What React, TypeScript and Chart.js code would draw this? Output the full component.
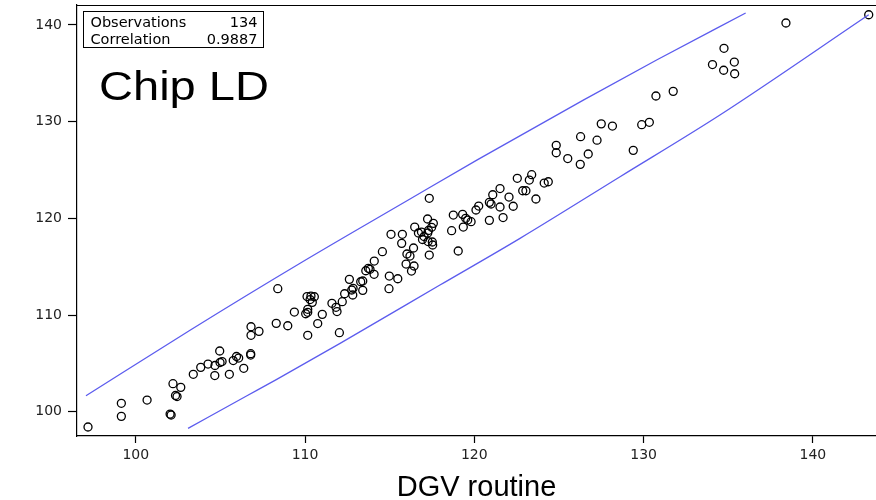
import React, { useEffect, useRef } from 'react';
import { Chart, registerables } from 'chart.js';
Chart.register(...registerables);

// DGV routine (x) and Chip LD (y) observations
const dgvRoutine = [
  97.18, 99.15, 99.15, 100.67, 102.03, 102.09, 102.2, 102.66, 102.35, 102.44,
  103.4, 103.84, 104.27, 104.68, 104.67, 104.96, 105.1, 104.98, 105.53, 105.76,
  105.95, 106.08, 106.38, 106.79, 106.79, 106.81, 107.28, 106.81, 108.3, 108.98,
  108.39, 109.37, 110.04, 110.16, 110.16, 110.12, 110.35, 110.55, 110.3, 110.43,
  110.16, 110.75, 111.02, 111.59, 111.83, 111.89, 112.03, 112.2, 112.34, 112.62,
  112.76, 112.84, 112.82, 113.29, 113.41, 113.41, 113.59, 113.74, 113.84, 114.09,
  114.08, 114.57, 114.98, 115.48, 114.96, 115.08, 115.75, 115.71, 116.02, 116.2,
  116.41, 115.97, 116.44, 116.29, 116.48, 116.7, 116.88, 117.03, 116.94, 117.24,
  117.58, 117.48, 117.29, 117.25, 117.27, 117.52, 117.54, 117.34, 117.34, 118.66,
  119.05, 118.76, 119.31, 119.49, 119.61, 119.81, 119.35, 120.1, 120.26, 120.89,
  120.99, 121.09, 120.89, 121.52, 121.52, 121.7, 122.05, 122.3, 122.54, 123.25,
  123.39, 122.86, 123.05, 123.64, 124.13, 124.37, 124.84, 124.84, 125.52, 126.28,
  126.26, 126.73, 127.25, 127.5, 128.16, 129.39, 129.89, 130.34, 130.73, 131.75,
  134.07, 134.75, 135.36, 134.73, 135.38, 138.41, 143.3,
];
const chipLD = [
  98.42, 100.87, 99.52, 101.21, 99.76, 99.66, 102.9, 102.52, 101.68, 101.57,
  103.87, 104.59, 104.93, 104.78, 103.74, 106.28, 105.19, 105.09, 103.87, 105.29,
  105.71, 105.55, 104.49, 106.0, 105.86, 108.79, 108.31, 107.9, 109.14, 108.89,
  112.72, 110.31, 110.13, 110.28, 110.59, 111.91, 111.96, 111.89, 111.6, 111.31,
  107.9, 109.12, 110.07, 111.21, 110.8, 110.36, 108.17, 111.38, 112.2, 113.69,
  112.59, 112.76, 112.07, 113.44, 113.52, 112.55, 114.58, 114.83, 114.73, 115.58,
  114.21, 116.55, 114.03, 113.75, 112.72, 118.35, 118.35, 117.41, 116.31, 116.1,
  116.93, 115.27, 115.07, 114.55, 119.1, 118.48, 118.58, 118.12, 117.81, 119.93,
  119.48, 119.07, 118.74, 118.48, 117.6, 117.55, 117.24, 116.2, 122.07, 118.72,
  116.62, 120.34, 120.41, 120.0, 119.82, 119.65, 119.1, 120.86, 121.27, 121.65,
  121.48, 122.44, 119.79, 123.08, 121.17, 120.08, 122.2, 121.25, 124.14, 123.96,
  124.51, 122.85, 122.85, 122.0, 123.65, 123.78, 127.55, 126.78, 126.18, 128.44,
  125.58, 126.65, 128.08, 129.77, 129.54, 127.03, 129.68, 129.93, 132.65, 133.13,
  135.9, 137.58, 136.16, 135.31, 134.95, 140.2, 141.05,
];

// Prediction band curves
const upperBandX = [97.06, 103.23, 109.71, 116.1, 120.2, 126.44, 130.77, 136.03];
const upperBandY = [101.65, 108.45, 115.35, 121.89, 126.07, 132.22, 136.37, 141.23];
const lowerBandX = [103.09, 106.57, 108.33, 112.07, 117.97, 122.7, 128.61, 134.51, 143.3];
const lowerBandY = [98.28, 101.65, 103.35, 107.07, 113.1, 117.93, 124.3, 130.68, 141.05];

const xTicks = [100, 110, 120, 130, 140];
const yTicks = [100, 110, 120, 130, 140];
const xRange = [96.53, 143.73];
const yRange = [97.49, 142.06];

const statsLabels = ['Observations', 'Correlation'];
const statsValues = ['134', '0.9887'];
const panelLabel = 'Chip LD';
const xTitle = 'DGV routine';

const BAND_COLOR = 'rgb(92, 92, 238)';

const annotate = {
  id: 'annotate',
  afterDraw(chart: any) {
    const { ctx, chartArea: a } = chart;
    ctx.save();
    ctx.strokeStyle = '#000';
    ctx.lineWidth = 1.2;
    ctx.beginPath();
    ctx.moveTo(a.left, a.top + 0.5);
    ctx.lineTo(a.right, a.top + 0.5);
    ctx.stroke();

    // stats inset box
    const bx = a.left + 6.5;
    const by = a.top + 6.5;
    const bw = 180;
    const bh = 36;
    ctx.fillStyle = '#fff';
    ctx.fillRect(bx, by, bw, bh);
    ctx.lineWidth = 1;
    ctx.strokeRect(bx, by, bw, bh);
    ctx.fillStyle = '#000';
    ctx.font = '14.5px "DejaVu Sans"';
    ctx.textBaseline = 'alphabetic';
    statsLabels.forEach((label, i) => {
      const y = by + 15.5 + i * 16.5;
      ctx.textAlign = 'left';
      ctx.fillText(label, bx + 7, y);
      ctx.textAlign = 'right';
      ctx.fillText(statsValues[i], bx + bw - 6, y);
    });

    // panel label
    ctx.font = '41px "Liberation Sans"';
    ctx.textAlign = 'left';
    const w = ctx.measureText(panelLabel).width;
    ctx.translate(a.left + 22, a.top + 95);
    ctx.scale(170 / w, 1);
    ctx.fillText(panelLabel, 0, 0);
    ctx.restore();
  },
};

export default function App() {
  const ref = useRef<HTMLCanvasElement | null>(null);

  useEffect(() => {
    if (!ref.current) return;
    const points = dgvRoutine.map((x, i) => ({ x, y: chipLD[i] }));
    const upper = upperBandX.map((x, i) => ({ x, y: upperBandY[i] }));
    const lower = lowerBandX.map((x, i) => ({ x, y: lowerBandY[i] }));
    const tickFont = { family: '"DejaVu Sans"', size: 14 };

    const chart = new Chart(ref.current, {
      type: 'scatter',
      data: {
        datasets: [
          {
            data: upper,
            showLine: true,
            borderColor: BAND_COLOR,
            borderWidth: 1.3,
            pointRadius: 0,
            cubicInterpolationMode: 'monotone',
          } as any,
          {
            data: lower,
            showLine: true,
            borderColor: BAND_COLOR,
            borderWidth: 1.3,
            pointRadius: 0,
            cubicInterpolationMode: 'monotone',
          } as any,
          {
            data: points,
            pointStyle: 'circle',
            pointRadius: 4,
            pointBorderWidth: 1.3,
            borderColor: '#000',
            backgroundColor: 'rgba(0,0,0,0)',
            pointBackgroundColor: 'rgba(0,0,0,0)',
            pointBorderColor: '#000',
          } as any,
        ],
      },
      options: {
        animation: false,
        responsive: false,
        maintainAspectRatio: false,
        layout: { autoPadding: false, padding: { left: 0, right: 0, top: 5, bottom: 0 } },
        plugins: { legend: { display: false }, tooltip: { enabled: false } },
        scales: {
          x: {
            type: 'linear',
            min: xRange[0],
            max: xRange[1],
            afterBuildTicks: (s: any) => {
              s.ticks = xTicks.map((v) => ({ value: v }));
            },
            afterFit: (s: any) => {
              s.height = 64;
              s.paddingLeft = 0;
              s.paddingRight = 0;
            },
            grid: { drawOnChartArea: false, drawTicks: true, tickLength: 7, color: '#000', tickWidth: 1.2 },
            border: { display: true, color: '#000', width: 1.2 },
            ticks: { color: '#222', font: tickFont, padding: 4, maxRotation: 0 },
            title: {
              display: true,
              text: xTitle,
              color: '#000',
              font: { family: '"Liberation Sans"', size: 29, lineHeight: 0.8 },
              padding: { top: 0, bottom: 0 },
            },
          },
          y: {
            type: 'linear',
            min: yRange[0],
            max: yRange[1],
            afterBuildTicks: (s: any) => {
              s.ticks = yTicks.map((v) => ({ value: v }));
            },
            afterFit: (s: any) => {
              s.width = 77;
              s.paddingTop = 0;
              s.paddingBottom = 0;
            },
            grid: { drawOnChartArea: false, drawTicks: true, tickLength: 9, color: '#000', tickWidth: 1.2 },
            border: { display: true, color: '#000', width: 1.2 },
            ticks: { color: '#222', font: tickFont, padding: 6 },
          },
        },
      } as any,
      plugins: [annotate],
    });
    return () => chart.destroy();
  }, []);

  return (
    <div style={{ position: 'fixed', left: 0, top: 0, width: 876, height: 500, background: '#fff' }}>
      <canvas ref={ref} width={876} height={500} style={{ width: 876, height: 500, display: 'block' }} />
    </div>
  );
}
